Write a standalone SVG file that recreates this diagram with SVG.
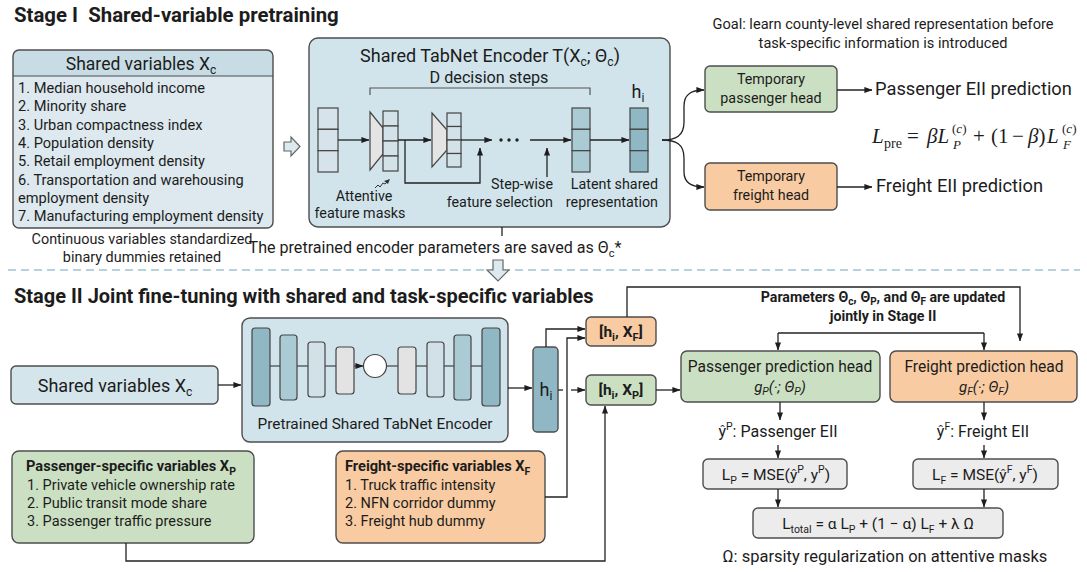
<svg xmlns="http://www.w3.org/2000/svg" width="1087" height="572" viewBox="0 0 1087 572">
<defs>
<marker id="ah" viewBox="0 0 10 10" refX="9.5" refY="5" markerWidth="8" markerHeight="8" markerUnits="userSpaceOnUse" orient="auto"><path d="M0,1.2 L10,5 L0,8.8 z" fill="#1e1e1e"/></marker>
</defs>
<style>
text{font-family:Roboto,'Liberation Sans',sans-serif;fill:#1c1c1c}
.b{font-weight:700}
.mid{text-anchor:middle}
.end{text-anchor:end}
.box{stroke:#4d4d4d;stroke-width:1.4}
.lb{fill:#d2e5ec}
.gr{fill:#cbe0c2}
.or{fill:#f8cba2}
.gy{fill:#ececec}
.ln{fill:none;stroke:#222;stroke-width:1.3}
.a{marker-end:url(#ah)}
.cell{stroke:#444;stroke-width:1.2}
.dk{fill:#8fb8c4}
.md{fill:#abcbd4}
.lt{fill:#d2e1e7}
.gg{fill:#e3e3e3}
.ser{font-family:'Liberation Serif','DejaVu Serif',serif}
.hol{fill:#dce9ee;stroke:#666;stroke-width:1.2}
</style>
<rect width="1087" height="572" fill="#fff"/>

<!-- Stage I -->
<text x="14" y="22" class="b" font-size="20.4" xml:space="preserve">Stage I  Shared-variable pretraining</text>

<g id="shared-vars-stage1">
<rect x="13" y="50" width="260" height="178" rx="6" fill="#dde9ee"/>
<path d="M13,76 V56 a6,6 0 0 1 6,-6 H267 a6,6 0 0 1 6,6 V76 Z" fill="#c7dce4"/>
<line x1="13" y1="76" x2="273" y2="76" stroke="#4d4d4d" stroke-width="1.2"/>
<rect x="13" y="50" width="260" height="178" rx="6" fill="none" class="box"/>
<text x="141" y="70" class="mid" font-size="17.5">Shared variables X<tspan font-size="12" dy="4">c</tspan></text>
<g font-size="14.6">
<text x="18" y="93">1. Median household income</text>
<text x="18" y="111">2. Minority share</text>
<text x="18" y="129.5">3. Urban compactness index</text>
<text x="18" y="148">4. Population density</text>
<text x="18" y="166">5. Retail employment density</text>
<text x="18" y="184.5">6. Transportation and warehousing</text>
<text x="18" y="203">employment density</text>
<text x="18" y="221">7. Manufacturing employment density</text>
</g>
</g>
<text x="142" y="244" class="mid" font-size="14.4">Continuous variables standardized</text>
<text x="142" y="262" class="mid" font-size="14.4">binary dummies retained</text>

<path class="hol" d="M284,142 H291 V137 L300,146.5 L291,156 V151 H284 Z"/>

<g id="tabnet-encoder-stage1">
<rect x="309" y="38" width="361" height="189" rx="9" fill="#d1e4eb" class="box"/>
<text x="490" y="62" class="mid" font-size="18">Shared TabNet Encoder T(X<tspan font-size="12" dy="4">c</tspan><tspan dy="-4">; Θ</tspan><tspan font-size="12" dy="4">c</tspan><tspan dy="-4">)</tspan></text>
<text x="489" y="83" class="mid" font-size="16.2">D decision steps</text>
<path d="M370,95 V88 H590 V95" fill="none" stroke="#555" stroke-width="1.2"/>
<g class="cell" fill="#d6e3ea">
<rect x="318" y="108" width="20" height="21.3"/><rect x="318" y="129.3" width="20" height="21.4"/><rect x="318" y="150.7" width="20" height="21.3"/>
</g>
<polygon points="370,112 383,128 383,154 370,170" fill="#e4e4e4" class="cell"/>
<g class="cell" fill="#d3e1e8">
<rect x="383" y="111" width="15" height="15"/><rect x="383" y="126" width="15" height="15"/><rect x="383" y="141" width="15" height="15"/><rect x="383" y="156" width="15" height="15"/>
</g>
<polygon points="432,113 447,130 447,150 432,167" fill="#e4e4e4" class="cell"/>
<g class="cell" fill="#d3e1e8">
<rect x="447" y="113" width="14" height="13.5"/><rect x="447" y="126.5" width="14" height="13.5"/><rect x="447" y="140" width="14" height="13.5"/><rect x="447" y="153.5" width="14" height="13.5"/>
</g>
<g fill="#222"><circle cx="501" cy="140" r="1.7"/><circle cx="509" cy="140" r="1.7"/><circle cx="517" cy="140" r="1.7"/></g>
<g class="cell md">
<rect x="572" y="108" width="18" height="21.3"/><rect x="572" y="129.3" width="18" height="21.4"/><rect x="572" y="150.7" width="18" height="21.3"/>
</g>
<g class="cell dk">
<rect x="630" y="108" width="18" height="21.3"/><rect x="630" y="129.3" width="18" height="21.4"/><rect x="630" y="150.7" width="18" height="21.3"/>
</g>
<text x="638" y="98" class="mid" font-size="18">h<tspan font-size="12" dy="4">i</tspan></text>
<path d="M375,188 L378,185 L380,187 L383,183 L385,184 L387,182" fill="none" stroke="#333" stroke-width="1"/>
<polygon points="390,179 384,181 388,184" fill="#333"/>
<g font-size="14.3">
<text x="364" y="201" class="mid">Attentive</text>
<text x="360" y="218" class="mid">feature masks</text>
<text x="553" y="189" class="end">Step-wise</text>
<text x="553" y="207" class="end">feature selection</text>
<text x="658" y="189" class="end">Latent shared</text>
<text x="658" y="207" class="end">representation</text>
</g>
</g>

<text x="435" y="253" class="mid" font-size="16.1">The pretrained encoder parameters are saved as Θ<tspan font-size="11" dy="4">c</tspan><tspan dy="-4">*</tspan></text>

<text x="883" y="29" class="mid" font-size="14.6">Goal: learn county-level shared representation before</text>
<text x="883" y="48" class="mid" font-size="14.6">task-specific information is introduced</text>

<g id="temp-passenger-head">
<rect x="705" y="66" width="132" height="46" rx="5" class="box gr"/>
<text x="771" y="84" class="mid" font-size="14.3">Temporary</text>
<text x="771" y="103" class="mid" font-size="14.3">passenger head</text>
</g>
<g id="temp-freight-head">
<rect x="705" y="163" width="132" height="47" rx="5" class="box or"/>
<text x="771" y="181" class="mid" font-size="14.3">Temporary</text>
<text x="771" y="200" class="mid" font-size="14.3">freight head</text>
</g>
<text x="875" y="95" font-size="18.3">Passenger EII prediction</text>
<text x="876" y="192" font-size="18.3">Freight EII prediction</text>

<g id="pretrain-loss" class="ser" font-size="21">
<text x="872" y="143" class="ser" font-style="italic">L</text>
<text x="884" y="148" class="ser" font-size="14">pre</text>
<text x="907" y="143" class="ser">=</text>
<text x="927" y="143" class="ser" font-style="italic">βL</text>
<text x="952" y="133" class="ser" font-size="13">(<tspan font-style="italic">c</tspan>)</text>
<text x="953" y="149" class="ser" font-size="13" font-style="italic">P</text>
<text x="973" y="143" class="ser">+</text>
<text x="991" y="143" class="ser">(1</text>
<text x="1012" y="143" class="ser">−</text>
<text x="1028" y="143" class="ser"><tspan font-style="italic">β</tspan>)</text>
<text x="1047" y="143" class="ser" font-style="italic">L</text>
<text x="1062" y="133" class="ser" font-size="13">(<tspan font-style="italic">c</tspan>)</text>
<text x="1063" y="149" class="ser" font-size="13" font-style="italic">F</text>
</g>

<!-- separator -->
<line x1="8" y1="270" x2="1080" y2="270" stroke="#9fc3d3" stroke-width="1.4" stroke-dasharray="8 5"/>
<path class="hol" d="M493,260 H503 V270 H509 L498,281 L487,270 H493 Z"/>

<!-- Stage II -->
<text x="14" y="303" class="b" font-size="20">Stage II Joint fine-tuning with shared and task-specific variables</text>

<g id="shared-vars-stage2">
<rect x="11" y="366" width="207" height="38" rx="5" class="box" fill="#d4e5eb"/>
<text x="115" y="392" class="mid" font-size="18">Shared variables X<tspan font-size="12" dy="4">c</tspan></text>
</g>

<g id="pretrained-encoder">
<rect x="242" y="318" width="266" height="124" rx="8" class="box" fill="#d1e4eb"/>
<line x1="270" y1="366" x2="363" y2="366" stroke="#222" stroke-width="1.2" class="a"/>
<line x1="387" y1="366" x2="482" y2="366" stroke="#222" stroke-width="1.2"/>
<rect x="252" y="328" width="18" height="78" rx="3" class="cell dk"/>
<rect x="280" y="335" width="17" height="65" rx="3" class="cell md"/>
<rect x="308" y="342" width="17" height="55" rx="3" class="cell lt"/>
<rect x="336" y="347" width="18" height="47" rx="3" class="cell gg"/>
<circle cx="375" cy="366" r="11.5" fill="#fff" class="cell"/>
<rect x="398" y="347" width="18" height="47" rx="3" class="cell gg"/>
<rect x="427" y="342" width="17" height="55" rx="3" class="cell lt"/>
<rect x="454" y="335" width="17" height="65" rx="3" class="cell md"/>
<rect x="482" y="328" width="18" height="78" rx="3" class="cell dk"/>
<text x="375" y="429" class="mid" font-size="15.4">Pretrained Shared TabNet Encoder</text>
</g>

<g id="hi-stage2">
<rect x="533" y="347" width="25" height="85" rx="4" class="box dk"/>
<text x="546" y="396" class="mid" font-size="18">h<tspan font-size="12" dy="4">i</tspan></text>
</g>

<g id="hi-xf">
<rect x="586" y="317" width="70" height="29" rx="5" class="box or"/>
<text x="621" y="337" class="mid b" font-size="15.5">[h<tspan font-size="11" dy="4">i</tspan><tspan dy="-4">, X</tspan><tspan font-size="11" dy="4">F</tspan><tspan dy="-4">]</tspan></text>
</g>
<g id="hi-xp">
<rect x="586" y="375" width="70" height="30" rx="5" class="box gr"/>
<text x="621" y="395" class="mid b" font-size="15.5">[h<tspan font-size="11" dy="4">i</tspan><tspan dy="-4">, X</tspan><tspan font-size="11" dy="4">P</tspan><tspan dy="-4">]</tspan></text>
</g>

<text x="883" y="302" class="mid b" font-size="14.2">Parameters Θ<tspan font-size="10" dy="3">c</tspan><tspan dy="-3">, Θ</tspan><tspan font-size="10" dy="3">P</tspan><tspan dy="-3">, and Θ</tspan><tspan font-size="10" dy="3">F</tspan><tspan dy="-3"> are updated</tspan></text>
<text x="883" y="321" class="mid b" font-size="14.2">jointly in Stage II</text>

<g id="passenger-head">
<rect x="681" y="351" width="199" height="51" rx="6" class="box gr"/>
<text x="780" y="372" class="mid" font-size="15.6">Passenger prediction head</text>
<text x="780" y="392" class="mid" font-size="15" font-style="italic">g<tspan font-size="10.5" dy="3">P</tspan><tspan dy="-3">(·; Θ</tspan><tspan font-size="10.5" dy="3">P</tspan><tspan dy="-3">)</tspan></text>
</g>
<g id="freight-head">
<rect x="890" y="351" width="187" height="51" rx="6" class="box or"/>
<text x="984" y="372" class="mid" font-size="15.6">Freight prediction head</text>
<text x="984" y="392" class="mid" font-size="15" font-style="italic">g<tspan font-size="10.5" dy="3">F</tspan><tspan dy="-3">(·; Θ</tspan><tspan font-size="10.5" dy="3">F</tspan><tspan dy="-3">)</tspan></text>
</g>

<text x="778" y="437" class="mid" font-size="16">ŷ<tspan font-size="10.5" dy="-7">P</tspan><tspan dy="7">: Passenger EII</tspan></text>
<text x="983" y="437" class="mid" font-size="16">ŷ<tspan font-size="10.5" dy="-7">F</tspan><tspan dy="7">: Freight EII</tspan></text>

<g id="loss-p">
<rect x="703" y="459" width="144" height="30" rx="5" class="box gy"/>
<text x="776" y="480" class="mid" font-size="15.5">L<tspan font-size="10.5" dy="4">P</tspan><tspan dy="-4"> = MSE(ŷ</tspan><tspan font-size="10.5" dy="-7">P</tspan><tspan dy="7">, y</tspan><tspan font-size="10.5" dy="-7">P</tspan><tspan dy="7">)</tspan></text>
</g>
<g id="loss-f">
<rect x="913" y="459" width="145" height="30" rx="5" class="box gy"/>
<text x="985" y="480" class="mid" font-size="15.5">L<tspan font-size="10.5" dy="4">F</tspan><tspan dy="-4"> = MSE(ŷ</tspan><tspan font-size="10.5" dy="-7">F</tspan><tspan dy="7">, y</tspan><tspan font-size="10.5" dy="-7">F</tspan><tspan dy="7">)</tspan></text>
</g>
<g id="loss-total">
<rect x="753" y="508" width="250" height="30" rx="5" class="box gy"/>
<text x="878" y="529" class="mid" font-size="15.5">L<tspan font-size="10.5" dy="4">total</tspan><tspan dy="-4"> = α L</tspan><tspan font-size="10.5" dy="4">P</tspan><tspan dy="-4"> + (1 − α) L</tspan><tspan font-size="10.5" dy="4">F</tspan><tspan dy="-4"> + λ Ω</tspan></text>
</g>
<text x="885" y="562" class="mid" font-size="16.5">Ω: sparsity regularization on attentive masks</text>

<g id="passenger-specific-vars">
<rect x="12" y="451" width="242" height="92" rx="7" class="box gr"/>
<text x="26" y="471" class="b" font-size="14.6">Passenger-specific variables X<tspan font-size="10.5" dy="4">P</tspan></text>
<g font-size="14.5">
<text x="27" y="490">1. Private vehicle ownership rate</text>
<text x="27" y="508">2. Public transit mode share</text>
<text x="27" y="526">3. Passenger traffic pressure</text>
</g>
</g>
<g id="freight-specific-vars">
<rect x="336" y="451" width="209" height="92" rx="7" class="box or"/>
<text x="345" y="471" class="b" font-size="14.6">Freight-specific variables X<tspan font-size="10.5" dy="4">F</tspan></text>
<g font-size="14.5">
<text x="345" y="490">1. Truck traffic intensity</text>
<text x="345" y="508">2. NFN corridor dummy</text>
<text x="345" y="526">3. Freight hub dummy</text>
</g>
</g>

<g id="connectors" class="ln">
<!-- stage I -->
<path class="a" d="M338,140 H369"/>
<path class="a" d="M398,140 H431"/>
<path class="a" d="M405,140 V183 H480 V148"/>
<path class="a" d="M461,140 H492"/>
<path class="a" d="M530,140 H571"/>
<path class="a" d="M547,177 V148"/>
<path class="a" d="M590,140 H629"/>
<path class="a" d="M662,140 C676,140 684,136 684,122 V106 C684,95 690,90 704,90"/>
<path class="a" d="M662,140 C676,140 684,144 684,158 V172 C684,182 690,187 704,187"/>
<path class="a" d="M837,90 H872"/>
<path class="a" d="M837,187 H872"/>
<path d="M502,227 V236"/>
<!-- stage II -->
<path class="a" d="M218,385 H241"/>
<path class="a" d="M508,388 H532"/>
<path d="M558,390 H563"/>
<path class="a" d="M571,390 H585"/>
<path class="a" d="M546,347 V329 H585"/>
<path class="a" d="M545,497 H567 V338 H585"/>
<path class="a" d="M126,543 V561 H605 V406"/>
<path class="a" d="M627,317 V287 H1020 V341"/>
<path d="M778,333 H984"/>
<path class="a" d="M778,333 V350"/>
<path class="a" d="M984,333 V350"/>
<path class="a" d="M656,390 H680"/>
<path class="a" d="M780,402 V420"/>
<path class="a" d="M984,402 V420"/>
<path class="a" d="M778,445 V458"/>
<path class="a" d="M984,445 V458"/>
<path class="a" d="M778,489 V507"/>
<path class="a" d="M984,489 V507"/>
</g>
</svg>
